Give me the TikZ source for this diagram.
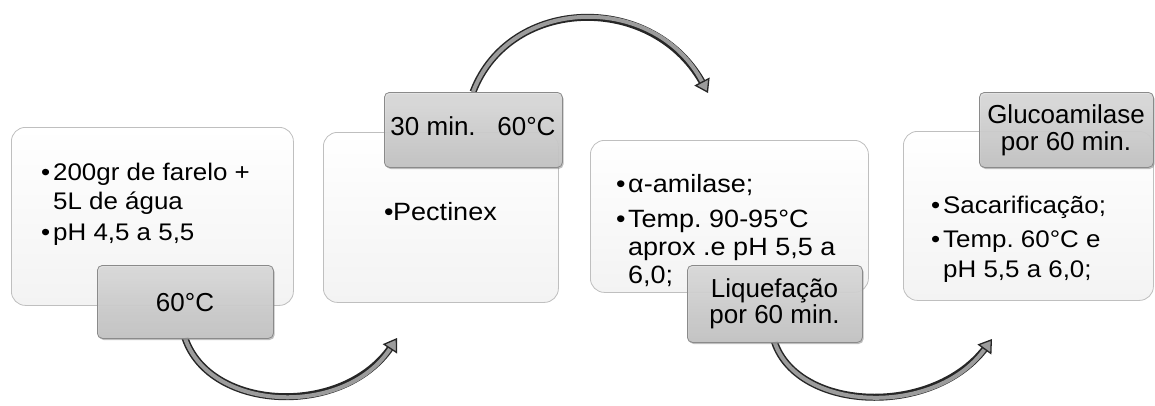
\documentclass[tikz,border=0pt]{standalone}
\usepackage{fontspec}
\setmainfont{Liberation Sans}[FakeStretch=1.08]
\newfontfamily\tagfont{Liberation Sans}
\usetikzlibrary{arrows.meta,shadows}
\definecolor{boxedge}{HTML}{BFBFBF}
\definecolor{boxbot}{HTML}{F3F3F3}
\definecolor{tagedge}{HTML}{8A8A8A}
\definecolor{tagtop}{HTML}{DEDEDE}
\definecolor{tagbot}{HTML}{C4C4C4}
\definecolor{arrdark}{HTML}{262626}
\definecolor{arrfill}{HTML}{9C9C9C}
\newcommand\bul[1]{\makebox[#1][l]{•}}
\frenchspacing
\begin{document}
\begin{tikzpicture}[x=1pt,y=-1pt,
  panel/.style={draw=boxedge, line width=0.8pt, rounded corners=14pt,
    top color=white, bottom color=boxbot, anchor=north west, inner sep=0pt},
  tag/.style={draw=tagedge, line width=0.8pt, rounded corners=5pt,
    top color=tagtop, bottom color=tagbot, fill opacity=0.88,
    anchor=north west, inner sep=0pt,
    drop shadow={shadow xshift=1.2pt, shadow yshift=-1.6pt, fill=black!50, opacity=0.5}},
  txt/.style={anchor=base west, inner sep=0pt, text=black},
  ctxt/.style={anchor=base, inner sep=0pt, text=black},
  fa/.style={font=\fontsize{24}{28}\selectfont},
  fb/.style={font=\fontsize{25}{29}\selectfont},
  fl/.style={font=\tagfont\fontsize{26}{29}\selectfont},
  shaft/.style={draw=arrdark, line width=7pt, shorten >=8pt},
  core/.style={draw=arrfill, line width=4pt,
    -{Triangle[length=13pt,width=17pt,line width=1.3pt,color=arrdark,fill=arrfill]}}
]
\useasboundingbox (0,0) rectangle (1155,405);

% panels
\node[panel, minimum width=282pt, minimum height=178pt] (b1) at (11,127) {};
\node[panel, minimum width=235pt, minimum height=170pt] (b2) at (323,132) {};
\node[panel, minimum width=278pt, minimum height=152pt] (b3) at (590,140) {};
\node[panel, minimum width=250pt, minimum height=169pt] (b4) at (903,131) {};

% panel texts
\node[txt, fa] (t11) at (41,180) {\bul{12pt}200gr de farelo +};
\node[txt, fa] (t12) at (53,209) {5L de água};
\node[txt, fa] (t13) at (41,240) {\bul{12pt}pH 4,5 a 5,5};

\node[txt, fb] (t21) at (384,220) {\bul{9pt}Pectinex};

\node[txt, fb] (t31) at (616,192) {\bul{12pt}α-amilase;};
\node[txt, fb] (t32) at (616,227) {\bul{12pt}Temp. 90-95°C};
\node[txt, fb] (t33) at (628,255) {aprox .e pH 5,5 a};
\node[txt, fb] (t34) at (628,283) {6,0;};

\node[txt, fa] (t41) at (931,213) {\bul{12pt}Sacarificação;};
\node[txt, fa] (t42) at (931,247) {\bul{12pt}Temp. 60°C e};
\node[txt, fa] (t43) at (943,277) {pH 5,5 a 6,0;};

% arrow end points
\coordinate (e1) at (397,338);
\coordinate (e2) at (708,93);
\coordinate (e3) at (992,339);

% arrow start points (on label borders)
\coordinate (l1s) at (185,338);
\coordinate (l2n) at (473,92);
\coordinate (l3s) at (774.5,342);

% arrows
\draw[shaft] (l1s) .. controls (210,412) and (345,418) .. (e1);
\draw[core]  (l1s) .. controls (210,412) and (345,418) .. (e1);
\draw[shaft] (l2n) .. controls (510,-5) and (655,-8) .. (e2);
\draw[core]  (l2n) .. controls (510,-5) and (655,-8) .. (e2);
\draw[shaft] (l3s) .. controls (798,412) and (935,418) .. (e3);
\draw[core]  (l3s) .. controls (798,412) and (935,418) .. (e3);

% labels
\node[tag, minimum width=176pt, minimum height=73pt] (l1) at (97,265) {};
\node[tag, minimum width=178pt, minimum height=75pt] (l2) at (384,92) {};
\node[tag, minimum width=175pt, minimum height=77pt] (l3) at (687,265) {};
\node[tag, minimum width=174pt, minimum height=75pt] (l4) at (979,92) {};

\node[ctxt, fl] (k1) at (185,311) {60°C};
\node[ctxt, fl] (k2) at (473,135) {30 min.\ \ \ 60°C};
\node[ctxt, fl] (k31) at (774.5,297) {Liquefação};
\node[ctxt, fl] (k32) at (774.5,323) {por 60 min.};
\node[ctxt, fl] (k41) at (1066,123) {Glucoamilase};
\node[ctxt, fl] (k42) at (1066,150) {por 60 min.};
\end{tikzpicture}
\end{document}
